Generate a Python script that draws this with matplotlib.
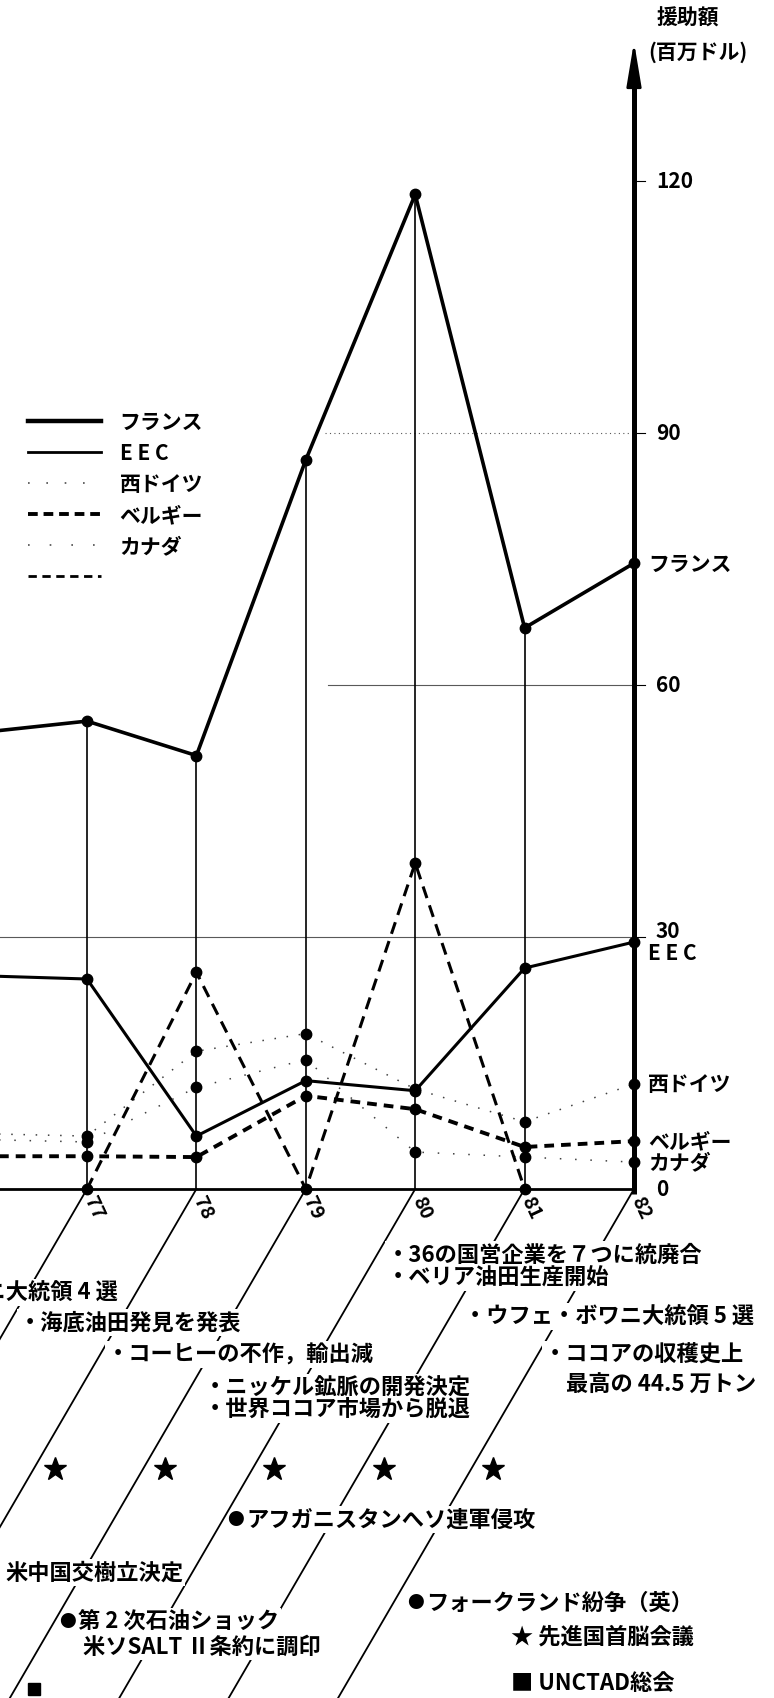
import numpy as np
import matplotlib.pyplot as plt
from matplotlib.lines import Line2D

plt.rcParams['font.family'] = ['Noto Sans CJK JP', 'DejaVu Sans']
plt.rcParams['font.weight'] = 'bold'

# aid amounts (million dollars); 76 is only the stub cut off at the left edge
years = [76, 77, 78, 79, 80, 81, 82]
year_labels = ['77', '78', '79', '80', '81', '82']
france = [54.3, 55.7, 51.6, 86.8, 118.4, 66.8, 74.5]
eec = [25.4, 25.0, 6.3, 12.9, 11.7, 26.3, 29.4]
w_germany = [6.6, 6.3, 16.4, 18.5, 11.9, 8.0, 12.5]
belgium = [3.9, 3.9, 3.8, 11.1, 9.5, 5.0, 5.7]
canada = [5.9, 5.6, 12.1, 15.4, 4.4, 3.8, 3.2]
other = [np.nan, 0, 25.8, 0, 38.8, 0, np.nan]
y_ticks = [0, 30, 60, 90, 120]
series_names = ['フランス', 'E E C', '西ドイツ', 'ベルギー', 'カナダ', ' ']
end_labels = ['フランス', 'E E C', '西ドイツ', 'ベルギー', 'カナダ']

summit_years = [78, 79, 80, 81, 82]
unctad_years = [79]

event_lines = [
    '・36の国営企業を７つに統廃合',
    '・ベリア油田生産開始',
    '・ウフェ・ボワニ大統領 5 選',
    '・ココアの収穫史上',
    '最高の 44.5 万トン',
    '・海底油田発見を発表',
    '・コーヒーの不作，輸出減',
    '・ニッケル鉱脈の開発決定',
    '・世界ココア市場から脱退',
    '米ソSALT Ⅱ条約に調印',
    '★ 先進国首脳会議',
    '■ UNCTAD総会',
]
# left edge / centre line of each event text on the page (pixels)
event_pos = [(387, 1255), (387, 1278), (464, 1317), (544, 1355), (566, 1385),
             (19, 1323), (107, 1355), (204, 1388), (204, 1410),
             (83, 1647), (511, 1637), (511, 1683)]
# events marked with a round bullet: bullet centre given
dot_lines = ['アフガニスタンへソ連軍侵攻', 'フォークランド紛争（英）', '第 2 次石油ショック']
dot_pos = [(235, 1520), (415, 1603), (67, 1622)]
# texts cut by the left page edge, right aligned
cut_lines = ['ボワニ大統領 4 選', '米中国交樹立決定']
cut_pos = [(118, 1293), (183, 1573)]

W, H = 774, 1699
YEAR_PX = 109.4
UNIT_PX = 8.4
ZERO_PX = 1190
X0 = 77 - 87 / YEAR_PX
SLOPE = 1.72 * YEAR_PX / UNIT_PX   # slanted guide lines, units per year


def pos(x, y):
    return X0 + x / YEAR_PX, (ZERO_PX - y) / UNIT_PX


fig = plt.figure(figsize=(W / 100, H / 100), dpi=100)
ax = fig.add_axes([0, 0, 1, 1])
ymin = (ZERO_PX - H) / UNIT_PX
ax.set_xlim(X0, X0 + W / YEAR_PX)
ax.set_ylim(ymin, ZERO_PX / UNIT_PX)
ax.axis('off')

# grid lines
ax.plot([X0, 82], [30, 30], color='0.35', lw=0.8)
ax.plot([79.2, 82], [60, 60], color='0.35', lw=0.8)
ax.plot([79.18, 82], [90, 90], color='0.35', lw=0.8, ls=(0, (1, 3)))

# year verticals and base line
for yr, f in zip(years[:-1], france[:-1]):
    ax.plot([yr, yr], [0, f], color='k', lw=1.2)
ax.plot([X0, 82], [0, 0], color='k', lw=2)

# value axis with arrow
top = (ZERO_PX - 40) / UNIT_PX
ax.plot([82, 82], [-0.6, top - 3], color='k', lw=3.6, solid_capstyle='butt')
ax.annotate('', xy=(82, top), xytext=(82, top - 4),
            arrowprops=dict(arrowstyle='-|>,head_length=1.5,head_width=0.25',
                            color='k', lw=2, mutation_scale=18))
for t in y_ticks:
    if t:
        ax.plot([82, 82.1], [t, t], color='k', lw=0.8)
    ax.text(82.2, t + (0.8 if t == 30 else 0), str(t), fontsize=15,
            ha='left', va='center')
tx, ty = pos(688, 18)
ax.text(tx, ty, '援助額', fontsize=15, ha='center', va='center')
tx, ty = pos(698, 52)
ax.text(tx, ty, '(百万ドル)', fontsize=15, ha='center', va='center')

# series
mk = dict(marker='o', ms=7.5, markevery=slice(1, None), mfc='k', mec='k')
ax.plot(years, france, color='k', lw=2.6, **mk)
ax.plot(years, eec, color='k', lw=2.2, **mk)
ax.plot(years, w_germany, color='0.25', lw=1.1, ls=(0, (1, 7)), **mk)
ax.plot(years, canada, color='0.25', lw=1.1, ls=(0, (1, 9)), **mk)
ax.plot(years, belgium, color='k', lw=2.8, ls=(0, (2.5, 1.8)), **mk)
ax.plot(years, other, color='k', lw=2.2, ls=(0, (4, 2.5)), marker='o', ms=7.5)

# labels at the right end
ends = [france[-1], eec[-1] - 1.3, w_germany[-1], belgium[-1], canada[-1] + 0.1]
for name, v in zip(end_labels, ends):
    ax.text(82.13, v, name, fontsize=15, ha='left', va='center')

# legend
handles = [
    Line2D([], [], color='k', lw=3.2),
    Line2D([], [], color='k', lw=2.0),
    Line2D([], [], color='0.3', lw=1.2, ls=(0, (1, 10))),
    Line2D([], [], color='k', lw=2.8, ls=(0, (2.5, 1.5))),
    Line2D([], [], color='0.3', lw=1.2, ls=(0, (1, 12))),
    Line2D([], [], color='k', lw=2.0, ls=(0, (3, 2))),
]
ax.legend(handles, series_names, loc='upper left',
          bbox_to_anchor=(28 / W, 1 - 412 / H), bbox_transform=fig.transFigure,
          frameon=False, fontsize=15, handlelength=3.5, handletextpad=0.9,
          labelspacing=0.48, borderpad=0, borderaxespad=0)

# slanted year guides below the axis
for yr, lab in zip(years[1:], year_labels):
    ax.plot([yr, yr + ymin / SLOPE], [0, ymin], color='k', lw=1.3, zorder=1)
    ax.text(yr + 0.06, -2.2, lab, fontsize=14, rotation=-65,
            ha='center', va='center')

box = dict(facecolor='white', edgecolor='none', pad=1.5)
for txt, (x, y) in zip(event_lines, event_pos):
    tx, ty = pos(x, y)
    ax.text(tx, ty, txt, fontsize=16, ha='left', va='center', bbox=box, zorder=3)
for txt, (x, y) in zip(dot_lines, dot_pos):
    tx, ty = pos(x, y)
    ax.text(tx, ty, '●', fontsize=12, ha='center', va='center', zorder=4)
    tx, ty = pos(x + 11, y)
    ax.text(tx, ty, txt, fontsize=16, ha='left', va='center', bbox=box, zorder=3)
for txt, (x, y) in zip(cut_lines, cut_pos):
    tx, ty = pos(x, y)
    ax.text(tx, ty, txt, fontsize=16, ha='right', va='center', bbox=box, zorder=3)

star_y = (ZERO_PX - 1470) / UNIT_PX
ax.plot([yr + star_y / SLOPE + 0.2 for yr in summit_years],
        [star_y] * len(summit_years), '*', color='k', ms=17, zorder=4)
sq_y = (ZERO_PX - 1690) / UNIT_PX
ax.plot([yr + sq_y / SLOPE + 0.17 for yr in unctad_years],
        [sq_y] * len(unctad_years), 's', color='k', ms=9, zorder=4)

fig.savefig('out.png', dpi=100, facecolor='white')
